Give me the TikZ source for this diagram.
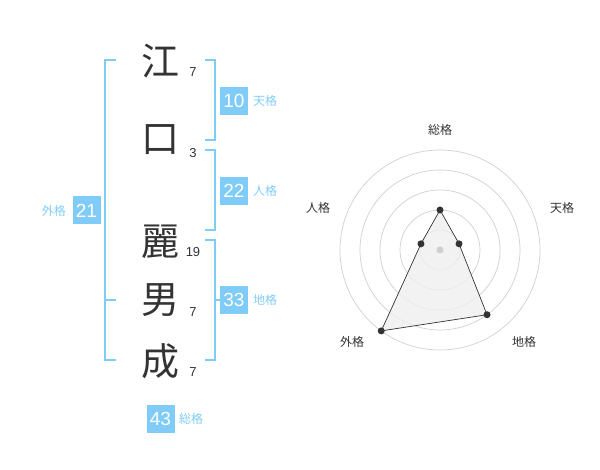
\documentclass[tikz,border=0pt]{standalone}
\usepackage{fontspec}
\usetikzlibrary{calc}
\setmainfont{Liberation Sans}
\newfontfamily\cjk{Noto Sans CJK JP}
\definecolor{sky}{HTML}{80CCF8}
\definecolor{ink}{HTML}{333333}
\definecolor{ring}{HTML}{D0D0D0}
\definecolor{area}{HTML}{EFEFEF}
\tikzset{
  kanji/.style={font=\cjk\fontsize{38}{38}\selectfont, text=ink, inner sep=0pt},
  strokes/.style={font=\fontsize{13}{13}\selectfont, text=ink, inner sep=0pt},
  numbox/.style={fill=sky, text=white, minimum width=28pt, minimum height=28pt, inner sep=0pt, font=\fontsize{19}{19}\selectfont},
  kaku/.style={font=\cjk\fontsize{12}{12}\selectfont, text=sky, inner sep=0pt},
  axislbl/.style={font=\cjk\fontsize{12}{12}\selectfont, text=ink, inner sep=0pt},
  brk/.style={draw=sky, line width=2pt},
  dot/.style={circle, fill=ink, inner sep=0pt, minimum size=7pt},
}
\begin{document}
\begin{tikzpicture}[x=1pt,y=-1pt]
\useasboundingbox (0,0) rectangle (600,470);
% characters
\node[kanji] (c1) at (160,61) {江};
\node[kanji] (c2) at (160,140) {口};
\node[kanji] (c3) at (160,242) {麗};
\node[kanji] (c4) at (160,300) {男};
\node[kanji] (c5) at (160,361) {成};
\node[strokes] (s1) at (193,72) {7};
\node[strokes] (s2) at (193,153) {3};
\node[strokes] (s3) at (193,252) {19};
\node[strokes] (s4) at (193,312) {7};
\node[strokes] (s5) at (193,372) {7};
% brackets
\draw[brk] (116,60) -- (105,60) -- (105,360) -- (116,360);
\draw[brk] (105,300) -- (116,300);
\draw[brk] (205,60) -- (215,60) -- (215,140) -- (205,140);
\draw[brk] (205,150) -- (215,150) -- (215,230) -- (205,230);
\draw[brk] (205,240) -- (215,240) -- (215,360) -- (205,360);
\draw[brk] (215,300) -- (221,300);
% boxes
\node[numbox] (b10) at (234,101) {10};
\node[kaku, anchor=west] (l10) at (253,101) {天格};
\node[numbox] (b22) at (234,191) {22};
\node[kaku, anchor=west] (l22) at (253,191) {人格};
\node[numbox] (b33) at (234,300) {33};
\node[kaku, anchor=west] (l33) at (253,300) {地格};
\node[numbox] (b21) at (86.5,210.5) {21};
\node[kaku, anchor=east] (l21) at (66,210.5) {外格};
\node[numbox] (b43) at (160.5,419) {43};
\node[kaku, anchor=west] (l43) at (179,419) {総格};
% radar
\coordinate (o) at (440,250);
\foreach \r in {20,40,60,80,100} \draw[ring, line width=0.7pt] (o) circle (\r);
\coordinate (p1) at ($(o)+(-90:40)$);
\coordinate (p2) at ($(o)+(-18:20)$);
\coordinate (p3) at ($(o)+(54:80)$);
\coordinate (p4) at ($(o)+(126:100)$);
\coordinate (p5) at ($(o)+(198:20)$);
\fill[area, opacity=0.8] (p1) -- (p2) -- (p3) -- (p4) -- (p5) -- cycle;
\draw[ink, line width=0.7pt] (p1) -- (p2) -- (p3) -- (p4) -- (p5) -- cycle;
\node[circle, fill=ring, inner sep=0pt, minimum size=7pt] (oc) at (o) {};
\foreach \p in {p1,p2,p3,p4,p5} \node[dot] (d\p) at (\p) {};
\node[axislbl] (a1) at (440,130) {総格};
\node[axislbl] (a2) at (562,208) {天格};
\node[axislbl] (a3) at (524,342) {地格};
\node[axislbl] (a4) at (352,342) {外格};
\node[axislbl] (a5) at (318,208) {人格};
\end{tikzpicture}
\end{document}
